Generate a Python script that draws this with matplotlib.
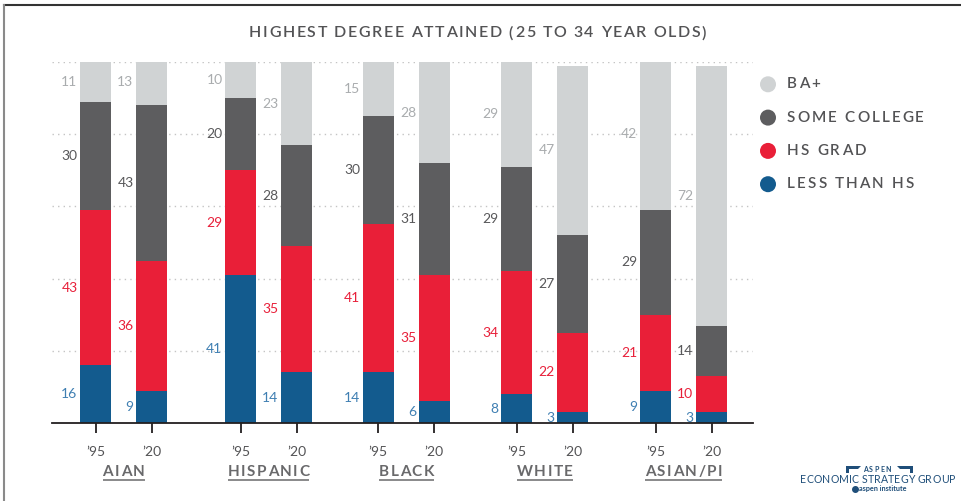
import matplotlib
matplotlib.use("Agg")
import matplotlib.pyplot as plt
from matplotlib.font_manager import FontProperties
from matplotlib.patches import Circle, Polygon
import numpy as np

# ---- data ----
groups = ["AIAN", "HISPANIC", "BLACK", "WHITE", "ASIAN/PI"]
years = ["\u201995", "\u201920"]
less_than_hs = [16, 9, 41, 14, 14, 6, 8, 3, 9, 3]
hs_grad = [43, 36, 29, 35, 41, 35, 34, 22, 21, 10]
some_college = [30, 43, 20, 28, 30, 31, 29, 27, 29, 14]
ba_plus = [11, 13, 10, 23, 15, 28, 29, 47, 42, 72]
series_names = ["BA+", "SOME COLLEGE", "HS GRAD", "LESS THAN HS"]

# ---- style ----
C_BA, C_SC, C_HS, C_LT = "#d0d3d4", "#5d5d5f", "#e91f38", "#135b8e"
L_BA, L_SC, L_HS, L_LT = "#a9acae", "#58585a", "#e8203a", "#3f7fb2"
TXT = "#535355"
FONT = "Lato"

W, H = 962, 501
fig = plt.figure(figsize=(W / 100, H / 100), dpi=100)
renderer = fig.canvas.get_renderer()

# main plotting area in pixel terms
ax_left, ax_right, ax_top, ax_bottom = 52, 753, 62, 423
ax = fig.add_axes([ax_left / W, (H - ax_bottom) / H,
                   (ax_right - ax_left) / W, (ax_bottom - ax_top) / H])

group_pos = np.array([0.0, 2.59, 5.05, 7.52, 10.0])
x = np.ravel([[g, g + 1.0] for g in group_pos])
bw = 0.555
ax.set_xlim(-0.777, -0.777 + (ax_right - ax_left) / 56.0)
ax.set_ylim(0, 100)

stack = [(less_than_hs, C_LT, L_LT), (hs_grad, C_HS, L_HS),
         (some_college, C_SC, L_SC), (ba_plus, C_BA, L_BA)]
bottom = np.zeros(len(x))
for vals, col, lcol in stack:
    vals = np.array(vals, dtype=float)
    ax.bar(x, vals, bw, bottom=bottom, color=col, zorder=3, linewidth=0)
    for xi, b, v in zip(x, bottom, vals):
        ax.annotate(f"{int(v)}", xy=(xi - bw / 2, b + v / 2), xytext=(-2.5, 0),
                    textcoords="offset pixels", ha="right", va="center",
                    fontsize=10, color=lcol, family=FONT, zorder=4)
    bottom += vals

for yv in [20, 40, 60, 80, 100]:
    ax.axhline(yv, color="#c4c4c4", lw=1.0, ls=(0, (1, 3)), zorder=1)

for s in ["top", "right", "left"]:
    ax.spines[s].set_visible(False)
ax.spines["bottom"].set_linewidth(1.3)
ax.spines["bottom"].set_color("#231f20")
ax.spines["bottom"].set_zorder(5)
ax.set_yticks([])
ax.set_xticks(x)
ax.set_xticklabels([])
ax.tick_params(axis="x", direction="out", length=7.5, width=1.3, color="#231f20")

# ---- overlay in pixel coordinates ----
ov = fig.add_axes([0, 0, 1, 1], facecolor="none")
ov.set_xlim(0, W)
ov.set_ylim(H, 0)
ov.axis("off")


def px_of(xd):
    return ax_left + (xd - ax.get_xlim()[0]) * 56.0


def tw(s, fp):
    return renderer.get_text_width_height_descent(s, fp, ismath=False)[0]


def tracked(xp, yp, s, fp, color, tracking=0.0, ha="left", va="center"):
    ref = tw("H", fp)
    offs = [0.0] + [tw(s[:i] + "H", fp) - ref for i in range(1, len(s))]
    total = tw(s, fp) + tracking * (len(s) - 1)
    x0 = xp - total / 2 if ha == "center" else (xp - total if ha == "right" else xp)
    for i, ch in enumerate(s):
        if ch == " ":
            continue
        ov.text(x0 + offs[i] + tracking * i, yp, ch, fontproperties=fp,
                color=color, ha="left", va=va)
    return x0, total


# title
fp_title = FontProperties(family=FONT, size=11.5, weight="semibold")
tracked(477.5, 33, "HIGHEST DEGREE ATTAINED (25 TO 34 YEAR OLDS)", fp_title, TXT,
        tracking=1.6, ha="center")

# year labels
for xi, k in zip(x, range(len(x))):
    ov.text(px_of(xi), 452, years[k % 2], ha="center", va="center",
            fontsize=10, color=TXT, family=FONT)

# group labels, underlined
fp_grp = FontProperties(family=FONT, size=11, weight="bold")
for g, name in zip(group_pos, groups):
    cx = (px_of(g) + px_of(g + 1)) / 2
    x0, tot = tracked(cx, 472, name, fp_grp, "#69696b", tracking=1.5, ha="center")
    ov.plot([x0, x0 + tot], [479.5, 479.5], color="#69696b", lw=1.1,
            solid_capstyle="butt")

# legend
fp_leg = FontProperties(family=FONT, size=11, weight="semibold")
leg_cols = [C_BA, C_SC, C_HS, C_LT]
for i, (name, col) in enumerate(zip(series_names, leg_cols)):
    yy = 84.3 + i * 33.3
    ov.add_patch(Circle((768, yy), 8, color=col, lw=0))
    tracked(787, yy, name, fp_leg, TXT, tracking=2.1)

# frame lines
ov.plot([4, W], [5, 5], color="#333333", lw=1.5)
ov.plot([4, 4], [5, H], color="#8a8a8a", lw=1.5)

# logo
BLUE = "#1f4e79"
ov.add_patch(Polygon([[846, 466], [861, 466], [858, 469], [849, 469], [849, 473],
                      [846, 473]], closed=True, color=BLUE, lw=0))
ov.add_patch(Polygon([[913, 466], [897, 466], [900, 469], [910, 469], [910, 473],
                      [913, 473]], closed=True, color=BLUE, lw=0))
tracked(877, 469, "ASPEN", FontProperties(family=FONT, size=5, weight="bold"),
        BLUE, tracking=1.4, ha="center")
tracked(877.5, 479.5, "ECONOMIC STRATEGY GROUP",
        FontProperties(family=FONT, size=7.6), BLUE, tracking=0.15, ha="center")
ov.plot([855.5], [489], marker="o", ms=4, color=BLUE)
ov.text(859, 489, "aspen institute", fontsize=5.2, weight="bold", color=BLUE,
        family=FONT, ha="left", va="center")

fig.savefig("out.png", dpi=100)
